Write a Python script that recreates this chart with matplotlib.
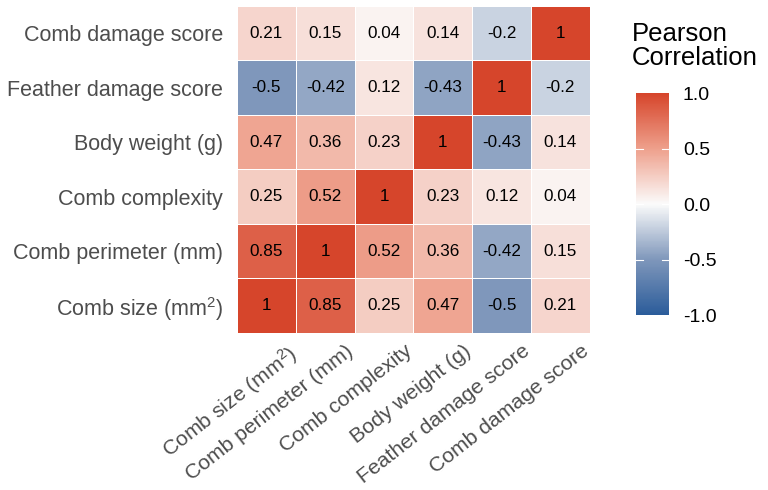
import numpy as np
import matplotlib.pyplot as plt
from matplotlib.colors import LinearSegmentedColormap
from matplotlib.transforms import ScaledTranslation

plt.rcParams['font.family'] = ['Liberation Sans', 'DejaVu Sans']
plt.rcParams['mathtext.fontset'] = 'custom'
plt.rcParams['mathtext.rm'] = 'Liberation Sans'
plt.rcParams['mathtext.it'] = 'Liberation Sans'
plt.rcParams['axes.unicode_minus'] = False

# variables, bottom-to-top on y / left-to-right on x
labels = ['Comb size (mm$^2$)', 'Comb perimeter (mm)', 'Comb complexity',
          'Body weight (g)', 'Feather damage score', 'Comb damage score']

corr = np.array([
    [1.00, 0.85, 0.25, 0.47, -0.50, 0.21],
    [0.85, 1.00, 0.52, 0.36, -0.42, 0.15],
    [0.25, 0.52, 1.00, 0.23, 0.12, 0.04],
    [0.47, 0.36, 0.23, 1.00, -0.43, 0.14],
    [-0.50, -0.42, 0.12, -0.43, 1.00, -0.20],
    [0.21, 0.15, 0.04, 0.14, -0.20, 1.00],
])

cbar_ticks = [-1.0, -0.5, 0.0, 0.5, 1.0]

# diverging palette roughly like ggplot's gradient2 (Lab interpolated)
cmap = LinearSegmentedColormap.from_list('pearson', [
    (0.0, '#2b5c9a'), (0.25, '#7f97bb'), (0.5, '#fbfbfb'),
    (0.75, '#eea08c'), (1.0, '#d6452b')])

fig = plt.figure(figsize=(7.68, 4.9), dpi=100)
ax = fig.add_axes([0.3086, 0.3204, 0.4594, 0.6674])
n = len(labels)
mesh = ax.pcolormesh(np.arange(n + 1) - 0.5, np.arange(n + 1) - 0.5, corr,
                     cmap=cmap, vmin=-1, vmax=1, edgecolor='white', linewidth=0.5)

for i in range(n):
    for j in range(n):
        ax.text(j, i, '%g' % round(corr[i, j], 2), ha='center', va='center',
                fontsize=12.3, color='black')

ax.set_xlim(-0.5, n - 0.5)
ax.set_ylim(-0.5, n - 0.5)
ax.set_xticks(range(n))
ax.set_yticks(range(n))
ax.set_xticklabels(labels, rotation=38, ha='right', rotation_mode='anchor',
                   fontsize=15.2, color='#4d4d4d')
ax.set_yticklabels(labels, fontsize=15.5, color='#4d4d4d')
ax.tick_params(axis='y', length=0, pad=10)
ax.tick_params(axis='x', length=0, pad=6)
shift = ScaledTranslation(0.2, 0, fig.dpi_scale_trans)
for lab in ax.get_xticklabels():
    lab.set_transform(lab.get_transform() + shift)
for sp in ax.spines.values():
    sp.set_visible(False)

cax = fig.add_axes([0.828, 0.357, 0.043, 0.453])
cb = fig.colorbar(mesh, cax=cax, ticks=cbar_ticks)
cb.outline.set_visible(False)
cb.ax.set_yticklabels(['%.1f' % t for t in cbar_ticks], fontsize=14, color='black')
cb.ax.tick_params(length=0, pad=10)
for t in cbar_ticks[1:-1]:
    cax.axhline(t, xmin=0, xmax=0.2, color='white', lw=0.8)
    cax.axhline(t, xmin=0.8, xmax=1, color='white', lw=0.8)
fig.text(0.823, 0.955, 'Pearson\nCorrelation', fontsize=18.5, va='top', ha='left',
         linespacing=1.0)

fig.savefig('out.png', dpi=100)
